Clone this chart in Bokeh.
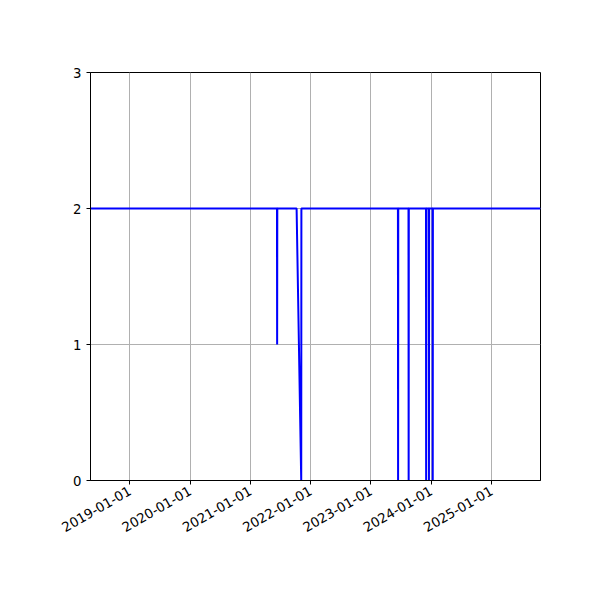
import math
from datetime import datetime
from bokeh.plotting import figure
from bokeh.models import FixedTicker, DatetimeTickFormatter, Range1d
from bokeh.embed import file_html
from bokeh.resources import INLINE

# data: key points of the line (dates and values)
dates = [
    "2018-05-08", "2021-06-11", "2021-06-12", "2021-06-13",
    "2021-10-08", "2021-11-05", "2021-11-06",
    "2023-06-14", "2023-06-15", "2023-06-16",
    "2023-08-17", "2023-08-18", "2023-08-19",
    "2023-12-01", "2023-12-02", "2023-12-03",
    "2023-12-18", "2023-12-19", "2023-12-20",
    "2024-01-10", "2024-01-11", "2024-01-12",
    "2025-10-25",
]
values = [
    2, 2, 1, 2,
    2, 0, 2,
    2, 0, 2,
    2, 0, 2,
    2, 0, 2,
    2, 0, 2,
    2, 0, 2,
    2,
]
tick_dates = ["2019-01-01", "2020-01-01", "2021-01-01", "2022-01-01",
              "2023-01-01", "2024-01-01", "2025-01-01"]
y_ticks = [0, 1, 2, 3]

def ms(s):
    return datetime.strptime(s, "%Y-%m-%d").timestamp() * 1000.0

xs = [ms(d) for d in dates]

p = figure(x_axis_type="datetime", output_backend="svg", toolbar_location=None,
           frame_width=450, frame_height=408,
           min_border_left=90, min_border_top=72, min_border_right=20, min_border_bottom=96,
           x_range=Range1d(ms("2018-05-08"), ms("2025-10-25")),
           y_range=Range1d(0, 3))
p.background_fill_color = "white"
p.border_fill_color = "white"
p.outline_line_color = "black"
p.outline_line_width = 1

p.line(xs, values, line_color="blue", line_width=2)

p.xaxis.ticker = FixedTicker(ticks=[ms(d) for d in tick_dates])
p.xaxis.formatter = DatetimeTickFormatter(days="%Y-%m-%d", months="%Y-%m-%d", years="%Y-%m-%d")
p.xaxis.major_label_orientation = math.pi / 6
p.yaxis.ticker = FixedTicker(ticks=y_ticks)

for ax in (p.xaxis, p.yaxis):
    ax.axis_line_color = "black"
    ax.major_tick_line_color = "black"
    ax.major_tick_out = 4
    ax.major_tick_in = 0
    ax.minor_tick_line_color = None
    ax.major_label_text_font = "DejaVu Sans"
    ax.major_label_text_font_size = "13.3px"
    ax.major_label_text_color = "black"

p.grid.grid_line_color = "#b0b0b0"
p.grid.grid_line_width = 1
p.xgrid.ticker = FixedTicker(ticks=[ms(d) for d in tick_dates])
p.ygrid.ticker = FixedTicker(ticks=y_ticks)

open("out.html", "w").write(file_html(p, INLINE))
